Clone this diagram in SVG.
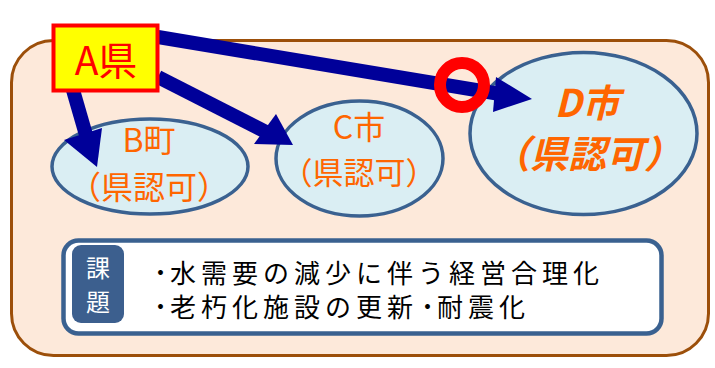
<svg xmlns="http://www.w3.org/2000/svg" width="715" height="368" viewBox="0 0 715 368">
<defs>
<style>
.ell{fill:#DAEEF3;stroke:#3A6190;stroke-width:3.5}
.lbl{fill:#FF6600;font-family:"Noto Sans CJK JP","Liberation Sans",sans-serif;text-anchor:middle}
.arr{fill:none;stroke:#000099;stroke-width:14}
.head{fill:#000099}
.task{font-family:"Noto Sans CJK JP",sans-serif;font-size:26px;fill:#000;letter-spacing:5px}
.dot{font-size:19px;font-weight:bold;letter-spacing:0}
.kd{font-family:"Noto Sans CJK JP",sans-serif;font-size:24px;fill:#FFFFFF;text-anchor:middle}
</style>
</defs>
<rect x="11.5" y="40.5" width="697" height="315" rx="42" ry="42" fill="#FDE9DA" stroke="#9C4F0A" stroke-width="3"/>
<g id="nodeB"><ellipse class="ell" cx="150" cy="166.5" rx="98" ry="47.5"/>
<text class="lbl" x="149" y="152" font-size="32">B町</text>
<text class="lbl" x="149" y="199" font-size="32">（県認可）</text></g>
<g id="nodeC"><ellipse class="ell" cx="359.5" cy="158.5" rx="83.5" ry="57.5"/>
<text class="lbl" x="359" y="139" font-size="32">C市</text>
<text class="lbl" x="359" y="184" font-size="31">（県認可）</text></g>
<g id="nodeD"><ellipse class="ell" cx="583.5" cy="133.5" rx="113.5" ry="81"/>
<text class="lbl" x="587" y="117" font-size="38" font-weight="bold" font-style="italic">D市</text>
<text class="lbl" x="587" y="168" font-size="38" font-weight="bold" font-style="italic">（県認可）</text></g>
<g id="connectors">
<line class="arr" x1="73" y1="90" x2="86" y2="135"/>
<polygon class="head" points="97,167 64,140 102,128"/>
<line class="arr" x1="158" y1="77" x2="268" y2="133"/>
<polygon class="head" points="293,145 254,144 276,114"/>
<line class="arr" x1="158" y1="37" x2="500" y2="94"/>
<polygon class="head" points="532,99 496,77 493,112"/>
</g>
<g id="nodeA"><rect x="53.5" y="25.5" width="104" height="65" fill="#FFFF00" stroke="#FF0000" stroke-width="4"/>
<text x="106" y="75" font-size="39" fill="#FF0000" text-anchor="middle" font-family="Noto Sans CJK JP,sans-serif">A県</text></g>
<g id="mark"><circle cx="462" cy="85" r="22" fill="none" stroke="#FF0000" stroke-width="12"/></g>
<g id="issues">
<rect x="63.5" y="240.5" width="598" height="93" rx="15" ry="15" fill="#FFFFFF" stroke="#3A6190" stroke-width="4.5"/>
<rect x="72" y="245" width="52" height="78" rx="9" ry="9" fill="#3C5F8E"/>
<text class="kd" x="98" y="277">課</text>
<text class="kd" x="98" y="311">題</text>
<text class="task" x="151" y="283"><tspan class="dot" dy="-3">・</tspan><tspan dy="3">水需要の減少に伴う経営合理化</tspan></text>
<text class="task" x="151" y="317"><tspan class="dot" dy="-3">・</tspan><tspan dy="3">老朽化施設の更新</tspan><tspan class="dot" dy="-3" letter-spacing="3">・</tspan><tspan dy="3">耐震化</tspan></text>
</g>
</svg>
